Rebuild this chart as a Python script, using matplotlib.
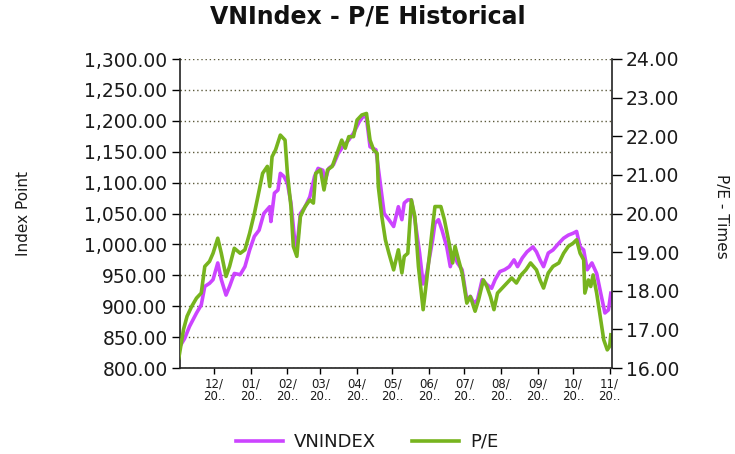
import matplotlib
matplotlib.use("Agg")
import matplotlib.pyplot as plt
from matplotlib.ticker import FuncFormatter
import pandas as pd

TITLE = "VNIndex - P/E Historical"
LEFT_LABEL = "Index Point"
RIGHT_LABEL = "P/E - Times"
SERIES_NAMES = ["VNINDEX", "P/E"]

VN_DATES = [
    "2017-11-01", "2017-11-06", "2017-11-10", "2017-11-16", "2017-11-20", "2017-11-23",
    "2017-11-27", "2017-11-30", "2017-12-04", "2017-12-07", "2017-12-11", "2017-12-14",
    "2017-12-18", "2017-12-23", "2017-12-27", "2017-12-31", "2018-01-04", "2018-01-08",
    "2018-01-12", "2018-01-17", "2018-01-18", "2018-01-21", "2018-01-24", "2018-01-26",
    "2018-01-29", "2018-02-01", "2018-02-04", "2018-02-07", "2018-02-09", "2018-02-12",
    "2018-02-16", "2018-02-20", "2018-02-24", "2018-02-27", "2018-03-03", "2018-03-05",
    "2018-03-08", "2018-03-12", "2018-03-16", "2018-03-21", "2018-03-25", "2018-03-29",
    "2018-04-03", "2018-04-07", "2018-04-09", "2018-04-12", "2018-04-17", "2018-04-21",
    "2018-04-24", "2018-04-28", "2018-05-02", "2018-05-06", "2018-05-09", "2018-05-11",
    "2018-05-14", "2018-05-17", "2018-05-20", "2018-05-24", "2018-05-27", "2018-05-30",
    "2018-06-04", "2018-06-06", "2018-06-09", "2018-06-12", "2018-06-16", "2018-06-19",
    "2018-06-22", "2018-06-25", "2018-06-29", "2018-07-03", "2018-07-06", "2018-07-09",
    "2018-07-12", "2018-07-16", "2018-07-20", "2018-07-24", "2018-07-27", "2018-07-31",
    "2018-08-04", "2018-08-08", "2018-08-12", "2018-08-15", "2018-08-19", "2018-08-23",
    "2018-08-28", "2018-08-31", "2018-09-03", "2018-09-06", "2018-09-10", "2018-09-14",
    "2018-09-19", "2018-09-23", "2018-09-27", "2018-10-01", "2018-10-04", "2018-10-07",
    "2018-10-10", "2018-10-13", "2018-10-17", "2018-10-21", "2018-10-25", "2018-10-28",
    "2018-10-31", "2018-11-02",
]
VN_VALUES = [
    832, 848, 867, 889, 902, 932,
    937, 943, 970, 943, 918, 932,
    953, 951, 964, 991, 1013, 1023,
    1050, 1061, 1037, 1083, 1088, 1115,
    1110, 1099, 1067, 1010, 995, 1050,
    1061, 1077, 1110, 1123, 1120, 1104,
    1123, 1129, 1147, 1161, 1169, 1180,
    1199, 1209, 1204, 1158, 1153, 1094,
    1050, 1040, 1029, 1061, 1040, 1067,
    1072, 1072, 1040, 986, 936, 953,
    1007, 1034, 1040, 1023, 996, 964,
    986, 970, 959, 910, 916, 905,
    910, 943, 935, 929, 943, 956,
    959, 964, 975, 964, 978, 988,
    996, 988, 975, 964, 986, 991,
    1002, 1010, 1015, 1018, 1021, 996,
    991, 959, 970, 953, 916, 889,
    894, 921,
]

PE_DATES = [
    "2017-11-01", "2017-11-05", "2017-11-08", "2017-11-12", "2017-11-16", "2017-11-20",
    "2017-11-23", "2017-11-27", "2017-11-30", "2017-12-04", "2017-12-07", "2017-12-11",
    "2017-12-14", "2017-12-18", "2017-12-23", "2017-12-27", "2017-12-31", "2018-01-04",
    "2018-01-07", "2018-01-11", "2018-01-15", "2018-01-17", "2018-01-19", "2018-01-22",
    "2018-01-26", "2018-01-30", "2018-02-01", "2018-02-04", "2018-02-06", "2018-02-09",
    "2018-02-12", "2018-02-16", "2018-02-20", "2018-02-23", "2018-02-25", "2018-03-01",
    "2018-03-04", "2018-03-07", "2018-03-11", "2018-03-15", "2018-03-19", "2018-03-22",
    "2018-03-25", "2018-03-29", "2018-04-01", "2018-04-05", "2018-04-09", "2018-04-12",
    "2018-04-15", "2018-04-18", "2018-04-19", "2018-04-22", "2018-04-25", "2018-04-28",
    "2018-05-02", "2018-05-06", "2018-05-09", "2018-05-11", "2018-05-14", "2018-05-17",
    "2018-05-20", "2018-05-23", "2018-05-27", "2018-05-30", "2018-06-04", "2018-06-06",
    "2018-06-11", "2018-06-14", "2018-06-18", "2018-06-21", "2018-06-23", "2018-06-26",
    "2018-06-29", "2018-07-03", "2018-07-06", "2018-07-10", "2018-07-13", "2018-07-17",
    "2018-07-20", "2018-07-23", "2018-07-26", "2018-07-29", "2018-08-02", "2018-08-06",
    "2018-08-10", "2018-08-14", "2018-08-18", "2018-08-22", "2018-08-26", "2018-08-31",
    "2018-09-03", "2018-09-06", "2018-09-10", "2018-09-14", "2018-09-19", "2018-09-23",
    "2018-09-27", "2018-10-01", "2018-10-04", "2018-10-07", "2018-10-10", "2018-10-11",
    "2018-10-14", "2018-10-16", "2018-10-18", "2018-10-21", "2018-10-24", "2018-10-27",
    "2018-10-30", "2018-11-01", "2018-11-02",
]
PE_VALUES = [
    16.26, 17.00, 17.34, 17.60, 17.81, 17.94,
    18.63, 18.76, 18.97, 19.36, 18.97, 18.37,
    18.63, 19.10, 18.97, 19.06, 19.49, 20.00,
    20.44, 21.04, 21.22, 20.70, 21.47, 21.65,
    22.03, 21.90, 21.04, 20.18, 19.15, 18.89,
    19.92, 20.18, 20.35, 20.27, 21.04, 21.13,
    20.61, 21.13, 21.22, 21.56, 21.90, 21.69,
    21.99, 21.99, 22.42, 22.55, 22.59, 21.90,
    21.65, 21.56, 20.70, 19.92, 19.32, 18.97,
    18.54, 19.06, 18.46, 18.89, 18.97, 20.35,
    19.92, 18.63, 17.51, 18.28, 19.66, 20.18,
    20.18, 19.84, 19.23, 18.72, 19.15, 18.80,
    18.46, 17.68, 17.85, 17.47, 17.77, 18.28,
    18.11, 17.85, 17.51, 17.94, 18.07, 18.20,
    18.33, 18.20, 18.41, 18.54, 18.72, 18.54,
    18.28, 18.07, 18.46, 18.63, 18.72, 18.97,
    19.15, 19.23, 19.32, 18.97, 18.80, 17.94,
    18.28, 18.11, 18.41, 17.94, 17.34, 16.73,
    16.47, 16.56, 16.86,
]

TICK_DATES = ["2017-12-01", "2018-01-01", "2018-02-01", "2018-03-01", "2018-04-01",
              "2018-05-01", "2018-06-01", "2018-07-01", "2018-08-01", "2018-09-01",
              "2018-10-01", "2018-11-01"]
TICK_LABELS = ["12/\n20..", "01/\n20..", "02/\n20..", "03/\n20..", "04/\n20..", "05/\n20..",
               "06/\n20..", "07/\n20..", "08/\n20..", "09/\n20..", "10/\n20..", "11/\n20.."]
LEFT_TICKS = [800, 850, 900, 950, 1000, 1050, 1100, 1150, 1200, 1250, 1300]
RIGHT_TICKS = [16, 17, 18, 19, 20, 21, 22, 23, 24]

PURPLE = "#cc44ff"
GREEN = "#77b41e"
TEXT = "#1a1a1a"

plt.rcParams["font.family"] = ["DejaVu Sans"]

fig = plt.figure(figsize=(7.35, 4.54), dpi=100)
ax = fig.add_axes([180 / 735, 1 - 368 / 454, (612 - 180) / 735, (368 - 59) / 454])
ax2 = ax.twinx()

vn_x = pd.to_datetime(VN_DATES)
pe_x = pd.to_datetime(PE_DATES)

l1, = ax.plot(vn_x, VN_VALUES, color=PURPLE, lw=2.6, label=SERIES_NAMES[0], solid_joinstyle="round")
l2, = ax2.plot(pe_x, PE_VALUES, color=GREEN, lw=2.6, label=SERIES_NAMES[1], solid_joinstyle="round")

ax.set_xlim(pd.Timestamp("2017-11-02"), pd.Timestamp("2018-11-03"))
ax.set_ylim(800, 1300)
ax2.set_ylim(16, 24)

ax.set_yticks(LEFT_TICKS)
ax.yaxis.set_major_formatter(FuncFormatter(lambda v, p: f"{v:,.2f}"))
ax2.set_yticks(RIGHT_TICKS)
ax2.yaxis.set_major_formatter(FuncFormatter(lambda v, p: f"{v:.2f}"))

ax.set_xticks(pd.to_datetime(TICK_DATES))
ax.set_xticklabels(TICK_LABELS, fontsize=8.5, color=TEXT, linespacing=0.95)

ax.grid(axis="y", color="#5c5a3c", linestyle=(0, (1, 2)), linewidth=1.0)
ax.set_axisbelow(True)

for a in (ax, ax2):
    a.spines["top"].set_visible(False)
    for s in ("left", "right", "bottom"):
        a.spines[s].set_color("#222222")
        a.spines[s].set_linewidth(1.2)
ax.spines["right"].set_visible(False)
ax2.spines["left"].set_visible(False)
ax2.spines["bottom"].set_visible(False)

ax.tick_params(axis="y", labelsize=13.5, labelcolor=TEXT, length=6, width=1, pad=3, direction="out")
ax2.tick_params(axis="y", labelsize=13.5, labelcolor=TEXT, length=7, width=1, pad=3, direction="out")
ax.tick_params(axis="x", length=4, width=1, pad=3, direction="out")

fig.text(0.5, 1 - 17 / 454, TITLE, ha="center", va="center", fontsize=17, fontweight="bold", color="#111111")
fig.text(24 / 735, 1 - 213 / 454, LEFT_LABEL, rotation=90, ha="center", va="center", fontsize=11, color=TEXT)
fig.text(721 / 735, 1 - 216 / 454, RIGHT_LABEL, rotation=-90, ha="center", va="center", fontsize=11, color=TEXT)

fig.legend(handles=[l1, l2], loc="center", bbox_to_anchor=(0.5, 1 - 442 / 454), ncol=2,
           frameon=False, fontsize=13, handlelength=2.6, handletextpad=0.6, columnspacing=2.0,
           labelcolor=TEXT)

fig.savefig("out.png", dpi=100)
